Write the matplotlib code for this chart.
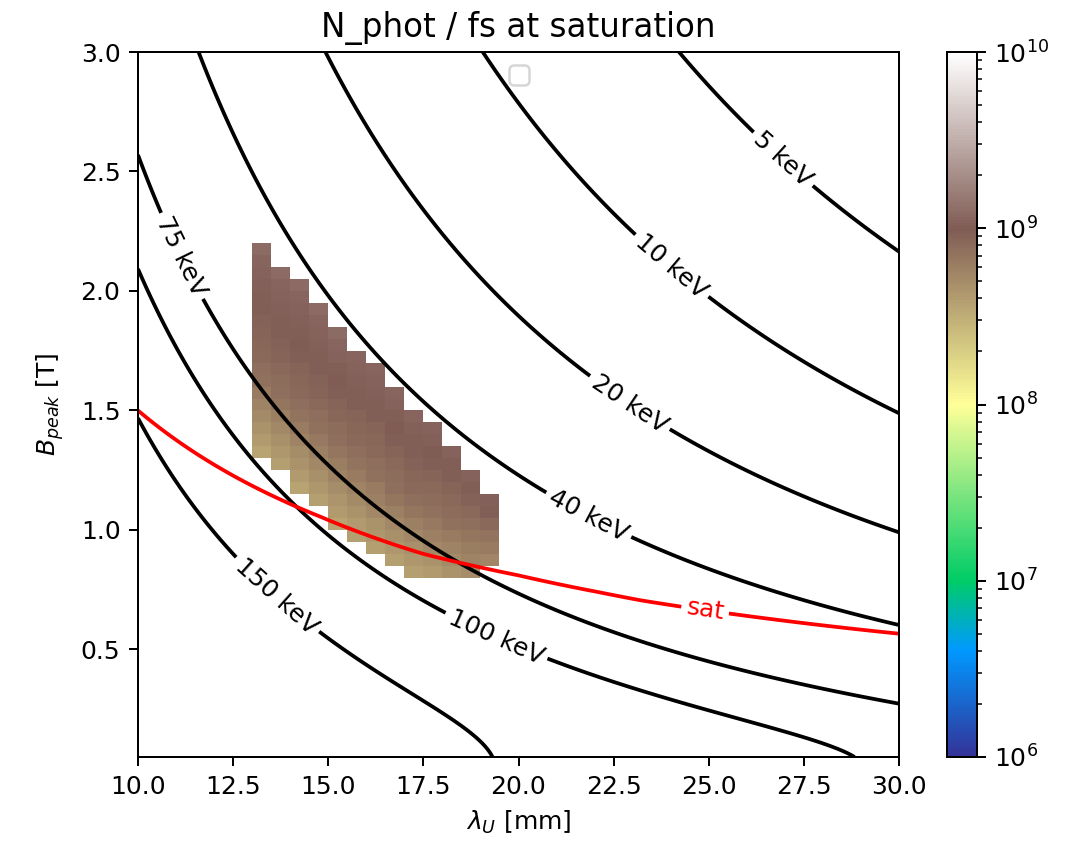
import numpy as np
import matplotlib
matplotlib.use("Agg")
import matplotlib.pyplot as plt
from matplotlib.colors import LogNorm

# ---------------- data ----------------
E_beam_GeV = 17.5                      # electron beam energy
energy_levels_keV = [5, 10, 20, 40, 75, 100, 150]
energy_labels = {5: "5 keV", 10: "10 keV", 20: "20 keV", 40: "40 keV",
                 75: "75 keV", 100: "100 keV", 150: "150 keV"}

# saturation curve (lambda_U [mm], B [T])
sat_lam = [10.0, 12.7, 14.8, 16.9, 17.5, 20.0, 22.1, 23.2, 26.6, 30.0]
sat_B = [1.50, 1.21, 1.055, 0.93, 0.90, 0.81, 0.74, 0.706, 0.628, 0.566]

# photon number per fs at saturation, log10, one list per lambda_U column
cell_lam_left = [13.0, 13.5, 14.0, 14.5, 15.0, 15.5, 16.0, 16.5, 17.0, 17.5, 18.0, 18.5, 19.0]
cell_B_bottom = [1.30, 1.25, 1.15, 1.10, 1.00, 0.95, 0.90, 0.85, 0.80, 0.80, 0.80, 0.80, 0.85]
log_nphot = [
    [8.56, 8.61, 8.66, 8.71, 8.76, 8.81, 8.86, 8.89, 8.91, 8.93, 8.95, 8.96, 8.98, 9.00, 9.02, 9.04, 9.06, 9.08],
    [8.58, 8.63, 8.68, 8.73, 8.78, 8.83, 8.88, 8.90, 8.92, 8.94, 8.96, 8.98, 9.00, 9.02, 9.04, 9.06, 9.08],
    [8.56, 8.61, 8.66, 8.70, 8.75, 8.80, 8.85, 8.89, 8.91, 8.93, 8.95, 8.97, 8.99, 9.00, 9.02, 9.04, 9.06, 9.08],
    [8.58, 8.63, 8.68, 8.72, 8.77, 8.82, 8.87, 8.89, 8.91, 8.94, 8.96, 8.98, 9.00, 9.02, 9.04, 9.06, 9.08],
    [8.56, 8.61, 8.65, 8.70, 8.75, 8.79, 8.84, 8.88, 8.90, 8.93, 8.95, 8.97, 8.99, 9.01, 9.04, 9.06, 9.08],
    [8.58, 8.62, 8.67, 8.71, 8.76, 8.80, 8.85, 8.89, 8.91, 8.93, 8.95, 8.97, 9.00, 9.02, 9.04, 9.06],
    [8.58, 8.63, 8.67, 8.72, 8.77, 8.81, 8.86, 8.89, 8.91, 8.93, 8.95, 8.98, 9.00, 9.02, 9.04, 9.06],
    [8.58, 8.63, 8.68, 8.73, 8.78, 8.83, 8.88, 8.90, 8.92, 8.94, 8.97, 8.99, 9.01, 9.04, 9.06],
    [8.58, 8.63, 8.68, 8.73, 8.78, 8.83, 8.88, 8.91, 8.93, 8.96, 8.98, 9.01, 9.03, 9.06],
    [8.62, 8.67, 8.72, 8.77, 8.82, 8.87, 8.90, 8.92, 8.94, 8.97, 8.99, 9.02, 9.04],
    [8.66, 8.71, 8.76, 8.81, 8.86, 8.90, 8.92, 8.95, 8.98, 9.01, 9.04],
    [8.70, 8.75, 8.79, 8.84, 8.88, 8.92, 8.96, 9.00, 9.04],
    [8.74, 8.80, 8.85, 8.91, 8.97, 9.02],
]
cell_dlam = 0.5
cell_dB = 0.05
grid_B_min, grid_B_max = 0.80, 2.20

# ---------------- figure ----------------
DPI = 180
fig = plt.figure(figsize=(1076 / DPI, 845 / DPI), dpi=DPI)
ax = fig.add_axes([138 / 1076, (845 - 757) / 845, 761 / 1076, 705 / 845])
cax = fig.add_axes([947 / 1076, (845 - 757) / 845, 30 / 1076, 705 / 845])

# pcolor grid of photon numbers
nrows = int(round((grid_B_max - grid_B_min) / cell_dB))
ncols = len(cell_lam_left)
C = np.full((nrows, ncols), np.nan)
for j, (b0, col) in enumerate(zip(cell_B_bottom, log_nphot)):
    r0 = int(round((b0 - grid_B_min) / cell_dB))
    C[r0:r0 + len(col), j] = 10.0 ** np.array(col)
x_edges = np.append(np.array(cell_lam_left), cell_lam_left[-1] + cell_dlam)
y_edges = grid_B_min + cell_dB * np.arange(nrows + 1)
mesh = ax.pcolormesh(x_edges, y_edges, np.ma.masked_invalid(C), cmap="terrain",
                     norm=LogNorm(vmin=1e6, vmax=1e10))

# photon energy contours (undulator fundamental)
lam = np.linspace(10, 30, 500)
B = np.linspace(0.05, 3.0, 500)
L, BB = np.meshgrid(lam, B)
K = 0.934 * BB * (L / 10.0)
E_ph = 0.950 * E_beam_GeV ** 2 / ((L / 10.0) * (1 + K ** 2 / 2))
cs = ax.contour(L, BB, E_ph, levels=energy_levels_keV, colors="k", linewidths=1.5)
ax.clabel(cs, fmt=energy_labels, fontsize=10, inline=True,
          manual=[(27.0, 2.56), (24.0, 2.10), (23.0, 1.55), (21.9, 1.08),
                  (11.2, 2.15), (19.4, 0.55), (13.5, 0.70)])

# saturation curve (log-log interpolation between the read points)
sat_on_grid = np.exp(np.interp(np.log(L), np.log(sat_lam), np.log(sat_B)))
F = BB - sat_on_grid
cs2 = ax.contour(L, BB, F, levels=[0.0], colors="red", linewidths=1.5)
ax.clabel(cs2, fmt={0.0: "sat"}, fontsize=10, inline=True, manual=[(24.9, 0.66)])

ax.set_xlim(10, 30)
ax.set_ylim(0.05, 3.0)
ax.set_xticks([10, 12.5, 15, 17.5, 20, 22.5, 25, 27.5, 30])
ax.set_yticks([0.5, 1.0, 1.5, 2.0, 2.5, 3.0])
ax.set_xlabel(r"$\lambda_U$ [mm]")
ax.set_ylabel(r"$B_{peak}$ [T]", labelpad=6)
ax.set_title("N_phot / fs at saturation", fontsize=13)
ax.legend(handles=[], loc="upper center")

fig.colorbar(mesh, cax=cax)

fig.savefig("out.png", dpi=DPI)
